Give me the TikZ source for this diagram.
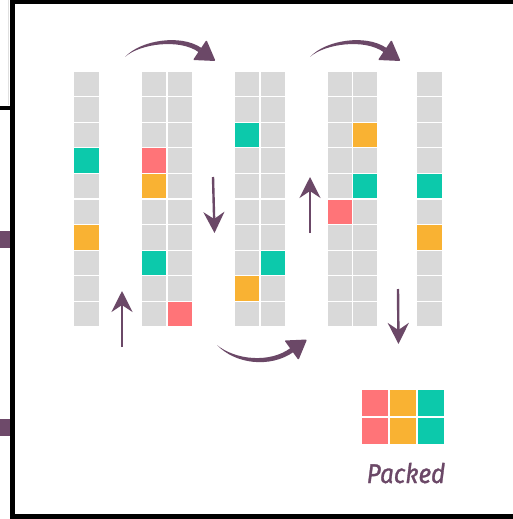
\documentclass[tikz,border=0pt]{standalone}
\usepackage{fontspec}
\usetikzlibrary{arrows.meta}
\newfontfamily\handfont{Fira Sans}[ItalicFeatures={FakeBold=1.2}]
\definecolor{cellgrey}{HTML}{D9D9D9}
\definecolor{cteal}{HTML}{0CC9AB}
\definecolor{corange}{HTML}{F9B233}
\definecolor{cpink}{HTML}{FF7478}
\definecolor{arrowc}{HTML}{6B4867}
\definecolor{btnpurple}{HTML}{6E4A6A}
\newcommand\gcell[4]{\fill[#3] ({#1+0.6},{71+(#2-1)*25.6+0.6}) rectangle ++({#4-1.2},24.4);}
\tikzset{
  vstroke/.style={draw=arrowc, line width=2.4pt,
    -{Stealth[length=21pt,width=21pt,inset=7pt]}},
}
\begin{document}
\begin{tikzpicture}[x=1pt,y=-1pt]
\useasboundingbox (0,0) rectangle (513,519);
\fill[white] (0,0) rectangle (513,519);
% left strip (background screenshot)
\draw[black!12, line width=0.8pt] (8,0) -- (8,105);
\fill[black] (0,105.5) rectangle (10,109.5);
\fill[btnpurple] (0,231) rectangle (10,248);
\fill[btnpurple] (0,419) rectangle (10,436);
% frame
\fill[black] (10,0) rectangle (513,4.5);
\fill[black] (10,0) rectangle (15,519);
\fill[black] (10,514) rectangle (513,519);
% grey grids
\foreach \r in {1,...,10}{
  \gcell{73}{\r}{cellgrey}{27}
  \gcell{141.5}{\r}{cellgrey}{25.5}
  \gcell{167}{\r}{cellgrey}{25.5}
  \gcell{234.5}{\r}{cellgrey}{25.5}
  \gcell{260}{\r}{cellgrey}{25.5}
  \gcell{327}{\r}{cellgrey}{25.5}
  \gcell{352.5}{\r}{cellgrey}{25.5}
  \gcell{416}{\r}{cellgrey}{26.5}
}
% column 1
\gcell{73}{4}{cteal}{27}
\gcell{73}{7}{corange}{27}
% column 2
\gcell{141.5}{4}{cpink}{25.5}
\gcell{141.5}{5}{corange}{25.5}
\gcell{141.5}{8}{cteal}{25.5}
\gcell{167}{10}{cpink}{25.5}
% column 3
\gcell{234.5}{3}{cteal}{25.5}
\gcell{260}{8}{cteal}{25.5}
\gcell{234.5}{9}{corange}{25.5}
% column 4
\gcell{352.5}{3}{corange}{25.5}
\gcell{352.5}{5}{cteal}{25.5}
\gcell{327}{6}{cpink}{25.5}
% column 5
\gcell{416}{5}{cteal}{26.5}
\gcell{416}{7}{corange}{26.5}
% packed block
\foreach \c/\col in {0/cpink,1/corange,2/cteal}{
  \foreach \rr in {0,1}{
    \fill[\col] ({361+\c*28+1},{389+\rr*28+1}) rectangle ++(26,26);
  }
}
\node[anchor=base, text=arrowc, font=\handfont\itshape\fontsize{27}{27}\selectfont, xscale=0.9] (packed) at (406,483) {Packed};
% curved arrow 1 (top left)
\fill[arrowc] (125,57) .. controls (140,40.5) and (180,33.5) .. (201.4,47.9)
  -- (198.6,52.1) .. controls (180,38.5) and (140,43.5) .. (125,57) -- cycle;
\fill[arrowc, rounded corners=1pt] (215.5,61) -- (206.5,40) -- (193,60) -- cycle;
% curved arrow 2 (top right)
\begin{scope}[xshift=185pt]
\fill[arrowc] (125,57) .. controls (140,40.5) and (180,33.5) .. (201.4,47.9)
  -- (198.6,52.1) .. controls (180,38.5) and (140,43.5) .. (125,57) -- cycle;
\fill[arrowc, rounded corners=1pt] (215.5,61) -- (206.5,40) -- (193,60) -- cycle;
\end{scope}
% curved arrow 3 (bottom)
\fill[arrowc] (217,345) .. controls (235,364) and (270,368.5) .. (293.5,352)
  -- (290.5,348) .. controls (270,363.5) and (235,360) .. (217,345) -- cycle;
\fill[arrowc, rounded corners=1pt] (307,339.5) -- (298.5,360) -- (284.5,340.5) -- cycle;
% straight arrows
\coordinate (a1s) at (122,347); \coordinate (a1e) at (122,291);
\coordinate (a2s) at (213,177); \coordinate (a2e) at (214.5,233);
\coordinate (a3s) at (310,233); \coordinate (a3e) at (310,177);
\coordinate (a4s) at (398,289); \coordinate (a4e) at (398.5,344);
\draw[vstroke] (a1s) -- (a1e);
\draw[vstroke] (a2s) -- (a2e);
\draw[vstroke] (a3s) -- (a3e);
\draw[vstroke] (a4s) -- (a4e);
\end{tikzpicture}
\end{document}
